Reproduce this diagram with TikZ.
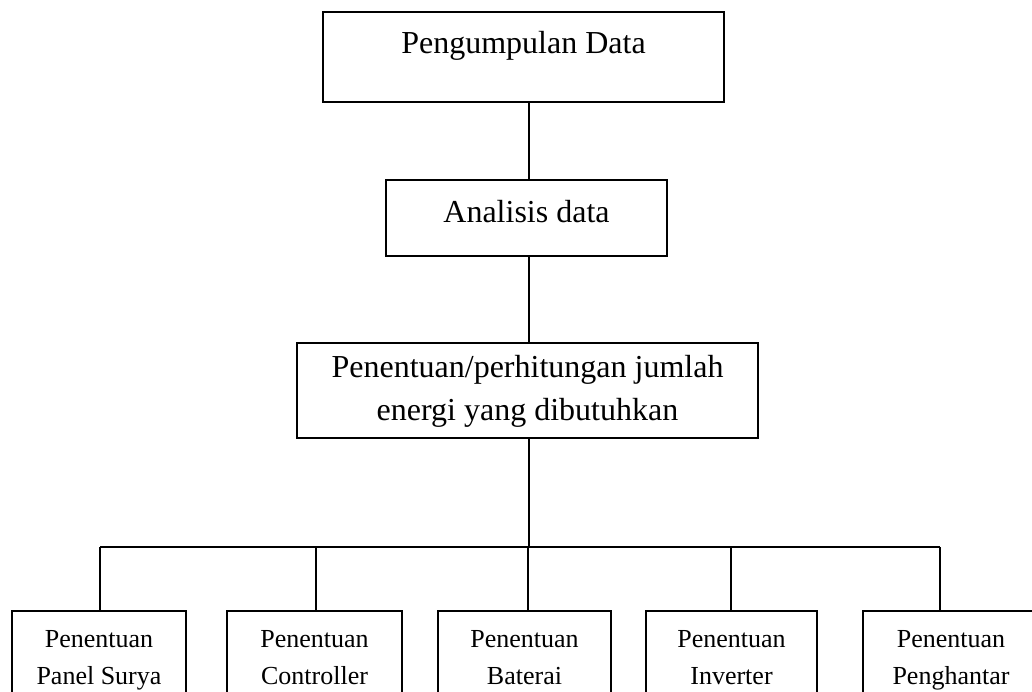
\documentclass[tikz,border=0pt]{standalone}
\usepackage{fontspec}
\setmainfont{Liberation Serif}
\begin{document}
\begin{tikzpicture}[x=1pt,y=-1pt,
  box/.style={draw=black,line width=1.6pt,rectangle,inner sep=0pt},
  big/.style={font=\fontsize{32}{43}\selectfont,inner sep=0pt,align=center,anchor=base},
  small/.style={font=\fontsize{26}{37}\selectfont,inner sep=0pt,align=center,anchor=base},
  conn/.style={line width=1.6pt}]
\useasboundingbox (0,0) rectangle (1032,691);
\clip (0,0) rectangle (1032,691);
% boxes
\node[box,minimum width=401pt,minimum height=90pt] (top) at (523.5,57) {};
\node[box,minimum width=281pt,minimum height=76pt] (ana) at (526.5,218) {};
\node[box,minimum width=461pt,minimum height=95pt] (det) at (527.5,390.5) {};
\node[box,minimum width=174pt,minimum height=110pt,anchor=north] (b1) at (99,610) {};
\node[box,minimum width=175pt,minimum height=110pt,anchor=north] (b2) at (314.5,610) {};
\node[box,minimum width=173pt,minimum height=110pt,anchor=north] (b3) at (524.5,610) {};
\node[box,minimum width=171pt,minimum height=110pt,anchor=north] (b4) at (731.5,610) {};
\node[box,minimum width=176pt,minimum height=110pt,anchor=north] (b5) at (951,610) {};
% texts (multi-line: anchor base = last line baseline)
\node[big] (ttop) at (523.5,53) {Pengumpulan Data};
\node[big] (tana) at (526.5,222) {Analisis data};
\node[big] (tdet) at (527.5,420) {Penentuan/perhitungan jumlah\\energi yang dibutuhkan};
\node[small] (tb1) at (99,684) {Penentuan\\Panel Surya};
\node[small] (tb2) at (314.5,684) {Penentuan\\Controller};
\node[small] (tb3) at (524.5,684) {Penentuan\\Baterai};
\node[small] (tb4) at (731.5,684) {Penentuan\\Inverter};
\node[small] (tb5) at (951,684) {Penentuan\\Penghantar};
% connectors
\coordinate (spine) at (529,0);
\coordinate (barL) at (100,547);
\coordinate (barR) at (940,547);
\coordinate (k1) at (100,0);
\coordinate (k2) at (316,0);
\coordinate (k3) at (528,0);
\coordinate (k4) at (731,0);
\coordinate (k5) at (940,0);
\draw[conn] (top.south -| spine) -- (ana.north -| spine);
\draw[conn] (ana.south -| spine) -- (det.north -| spine);
\draw[conn] (det.south -| spine) -- (spine |- barL);
\draw[conn] (barL) -- (barR);
\draw[conn] (k1 |- barL) -- (b1.north -| k1);
\draw[conn] (k2 |- barL) -- (b2.north -| k2);
\draw[conn] (k3 |- barL) -- (b3.north -| k3);
\draw[conn] (k4 |- barL) -- (b4.north -| k4);
\draw[conn] (k5 |- barL) -- (b5.north -| k5);
\end{tikzpicture}
\end{document}
